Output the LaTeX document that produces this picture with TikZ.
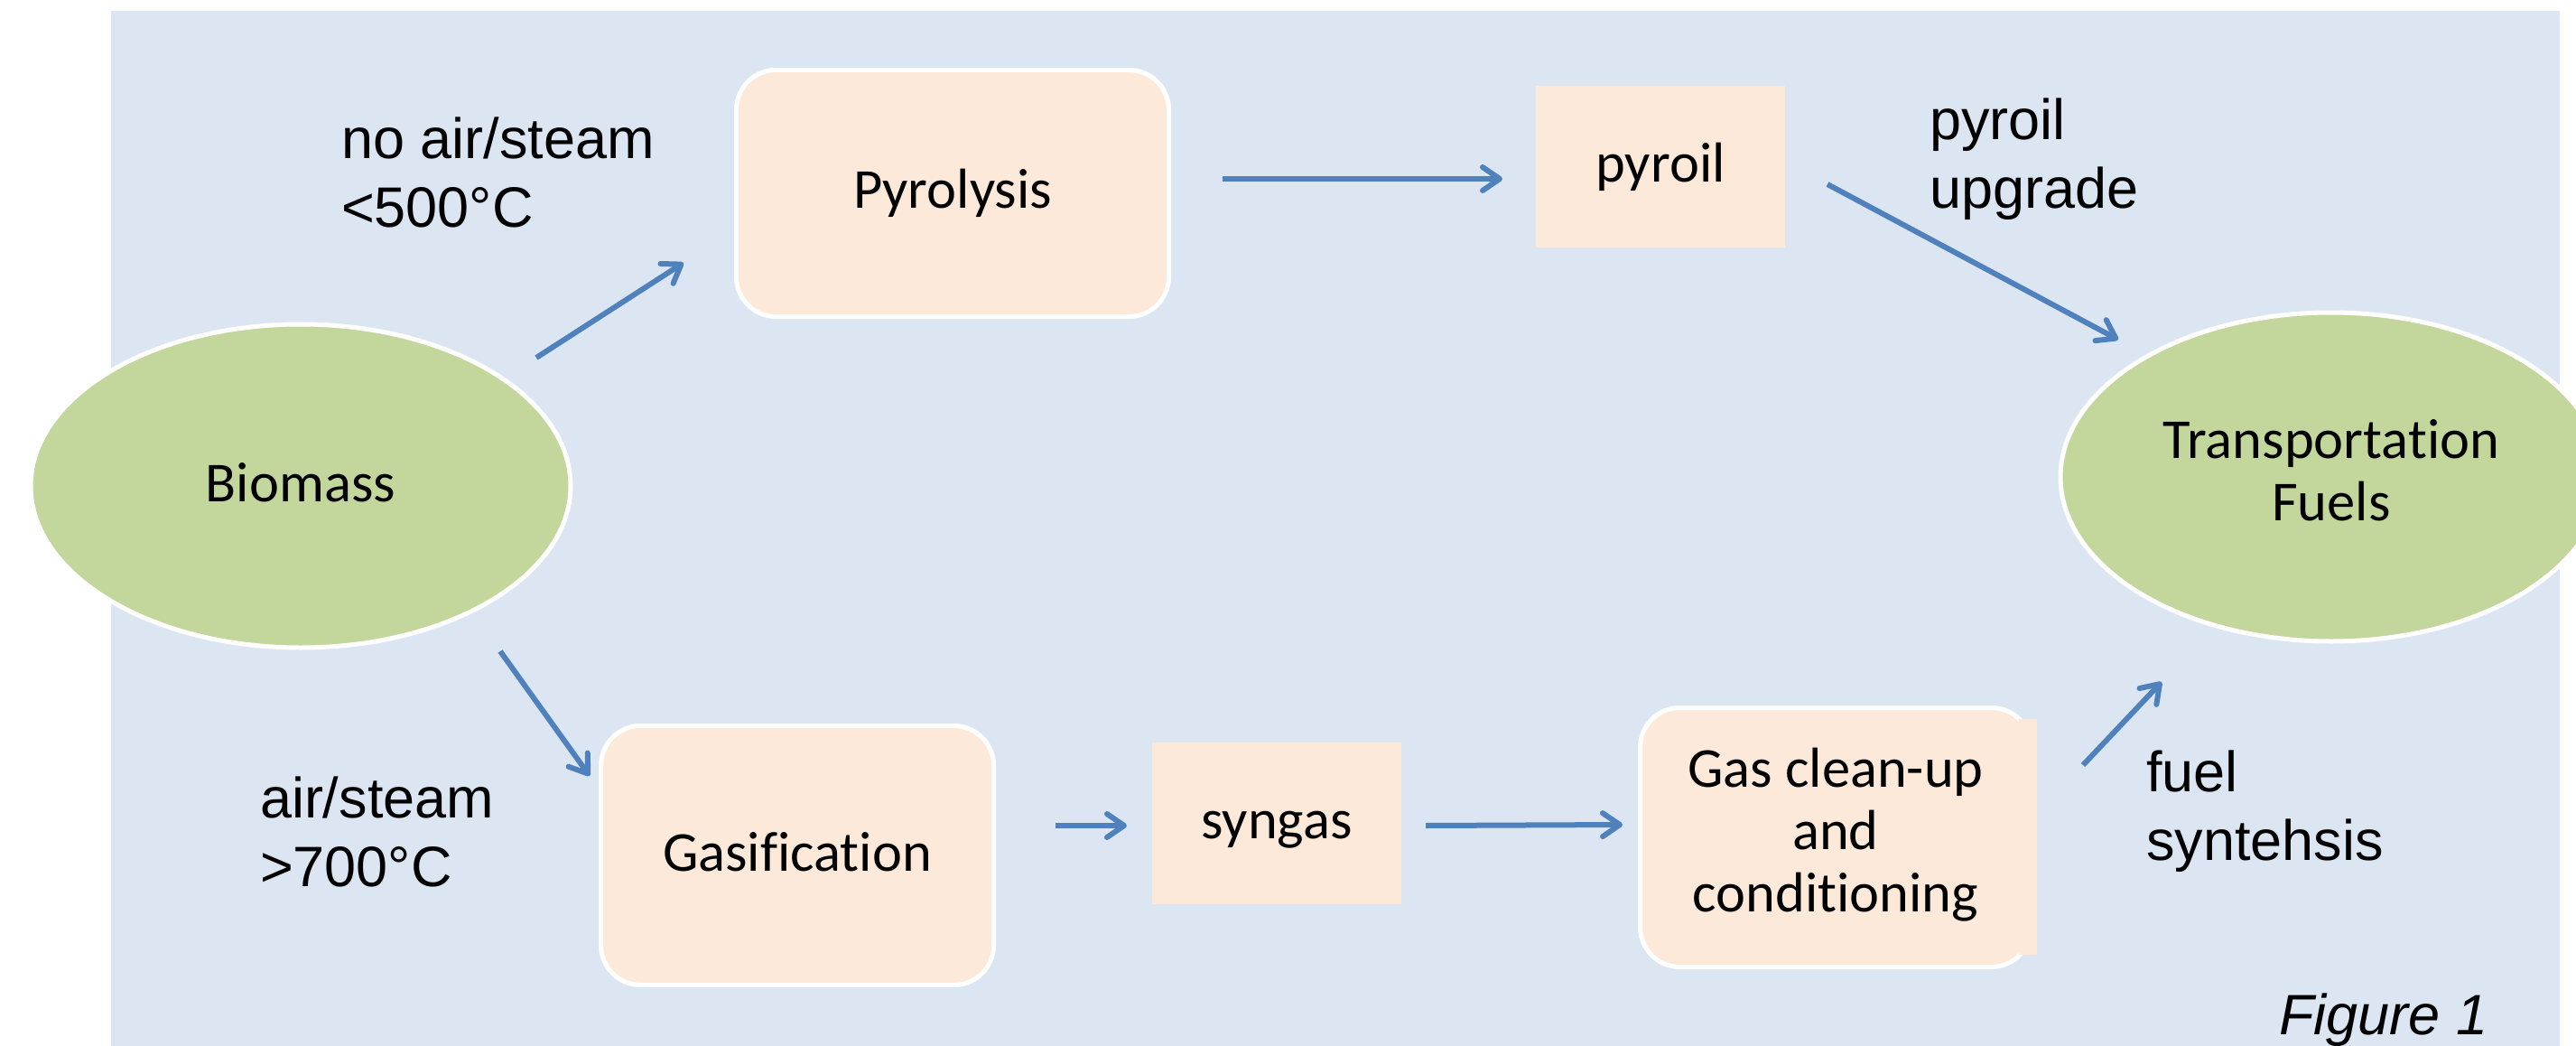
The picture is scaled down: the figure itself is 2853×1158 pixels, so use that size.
\documentclass[tikz,border=0pt]{standalone}
\usepackage{fontspec}
\setmainfont{Carlito}[Ligatures=CommonOff]
\newfontfamily\arialfam{Liberation Sans}
\usetikzlibrary{shapes.geometric,arrows.meta}
\definecolor{bgblue}{HTML}{DCE6F2}
\definecolor{peach}{HTML}{FDE9D9}
\definecolor{leaf}{HTML}{C3D69B}
\definecolor{arrowblue}{HTML}{4F81BD}
\newcommand{\boxfont}{\fontsize{62.5}{69}\selectfont}
\newcommand{\lblfont}{\arialfam\fontsize{63}{76}\selectfont}
\tikzset{
  procbox/.style={rectangle, rounded corners=44pt, fill=peach, draw=white, line width=5pt,
    inner sep=0pt, outer sep=0pt, font=\boxfont},
  databox/.style={rectangle, fill=peach, inner sep=0pt, outer sep=0pt, font=\boxfont},
  endpoint/.style={ellipse, fill=leaf, draw=white, line width=5pt, inner sep=0pt,
    outer sep=0pt, font=\boxfont},
  oneline/.style={text height=46pt, text depth=12pt},
  note/.style={anchor=base west, inner sep=0pt, outer sep=0pt, font=\lblfont},
  arr/.style={draw=arrowblue, line width=6pt,
    -{Straight Barb[length=19pt,width=26pt,round]}}
}
\begin{document}
\begin{tikzpicture}[x=1pt,y=-1pt]
\useasboundingbox (0,0) rectangle (2853,1158);
\clip (0,0) rectangle (2853,1158);
\fill[white] (0,0) rectangle (2853,1158);
\fill[bgblue] (123,12) rectangle (2835,1160);

% end points
\node[endpoint, oneline, minimum width=598pt, minimum height=358pt] (biomass) at (333,538) {Biomass};
\node[endpoint, minimum width=600pt, minimum height=364pt] (transport) at (2582,528)
  {\begin{tabular}{@{}c@{}}Transportation\\Fuels\end{tabular}};

% process boxes
\node[procbox, oneline, minimum width=479pt, minimum height=273pt] (pyrolysis) at (1055,214) {Pyrolysis};
\node[databox, oneline, minimum width=276pt, minimum height=179pt] (pyroil) at (1839,184.5) {pyroil};
\node[procbox, oneline, minimum width=435pt, minimum height=287pt] (gasification) at (883,947) {Gasification};
\node[databox, oneline, minimum width=276pt, minimum height=179pt] (syngas) at (1414,911.5) {syngas};
\node[procbox, minimum width=433pt, minimum height=287pt] (cleanup) at (2033,927)
  {\begin{tabular}{@{}c@{}}Gas clean-up\\and\\conditioning\end{tabular}};
\fill[peach] ([shift={(203,-131)}]cleanup.center) rectangle ([shift={(223,130)}]cleanup.center);

% annotations
\node[note] (lblpyro) at (378,176) {\begin{tabular}[t]{@{}l@{}}no air/steam\\<500°C\end{tabular}};
\node[note] (lblgas) at (288,905) {\begin{tabular}[t]{@{}l@{}}air/steam\\>700°C\end{tabular}};
\node[note] (lblupg) at (2137,155) {\begin{tabular}[t]{@{}l@{}}pyroil\\upgrade\end{tabular}};
\node[note] (lblfuel) at (2377,876) {\begin{tabular}[t]{@{}l@{}}fuel\\syntehsis\end{tabular}};
\node[note, font=\lblfont\itshape] (fig) at (2524,1145) {Figure 1};

% connectors
\draw[arr] ([shift={(261,-142)}]biomass.center) -- ([shift={(-298,77)}]pyrolysis.center);
\draw[arr] ([shift={(299,-16)}]pyrolysis.center) -- ([shift={(-175,13.5)}]pyroil.center);
\draw[arr] ([shift={(185,19.5)}]pyroil.center) -- ([shift={(-236,-152)}]transport.center);
\draw[arr] ([shift={(221,183)}]biomass.center) -- ([shift={(-230,-88)}]gasification.center);
\draw[arr] ([shift={(286,-33)}]gasification.center) -- ([shift={(-166,2.5)}]syngas.center);
\draw[arr] ([shift={(165,2.5)}]syngas.center) -- ([shift={(-236,-14)}]cleanup.center);
\draw[arr] ([shift={(274,-80)}]cleanup.center) -- ([shift={(-188,227)}]transport.center);
\end{tikzpicture}
\end{document}
